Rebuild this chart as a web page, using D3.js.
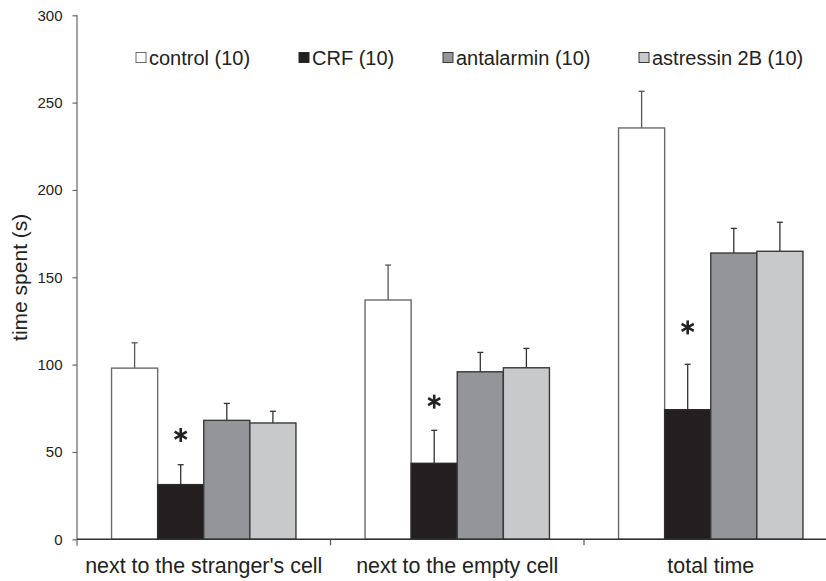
<!DOCTYPE html>
<html>
<head>
<meta charset="utf-8">
<script src="https://cdn.jsdelivr.net/npm/d3@7"></script>
<style>
  html, body { margin: 0; padding: 0; background: #fff; }
  svg { display: block; font-family: "Liberation Sans", Arial, sans-serif; }
</style>
</head>
<body>
<svg id="chart" width="826" height="581"></svg>
<script>
// ---- data ----
const categories = ["next to the stranger's cell", "next to the empty cell", "total time"];
const seriesNames = ["control (10)", "CRF (10)", "antalarmin (10)", "astressin 2B (10)"];
const controlMean    = [98.0, 137.0, 235.5];
const controlErr     = [14.5, 20.0, 21.0];
const crfMean        = [31.3, 43.5, 74.2];
const crfErr         = [11.4, 18.9, 26.0];
const antalarminMean = [68.1, 95.9, 163.9];
const antalarminErr  = [9.7, 11.1, 14.1];
const astressinMean  = [66.6, 98.2, 164.9];
const astressinErr   = [6.7, 11.1, 16.6];
const sigLevel       = [59.7, 78.8, 121.3];   // where the "*" sits over the CRF bar
const yTicks         = [0, 50, 100, 150, 200, 250, 300];

const means = [controlMean, crfMean, antalarminMean, astressinMean];
const errs  = [controlErr, crfErr, antalarminErr, astressinErr];

// ---- styles ----
const fills   = ["#ffffff", "#231f20", "#939598", "#c8c9cb"];
const strokes = ["#6a6a6a", "#2a2a2a", "#3a3a3a", "#3a3a3a"];

const svg = d3.select("#chart");

// ---- scales ----
const y = d3.scaleLinear().domain([0, 300]).range([539.3, 15.3]);
const step = 253.5;
const x0 = d3.scaleBand().domain(categories)
  .range([77, 77 + step * categories.length])
  .paddingInner(0.2726).paddingOuter(0.1363);
const x1 = d3.scaleBand().domain(seriesNames).range([0, x0.bandwidth()]).padding(0);

// ---- bars ----
const cells = [];
categories.forEach((c, i) => {
  seriesNames.forEach((s, j) => {
    cells.push({ c, s, j, v: means[j][i], e: errs[j][i] });
  });
});

const g = svg.append("g");

// error bars
const eb = g.selectAll(".err").data(cells).enter().append("g").attr("class", "err");
eb.append("line")
  .attr("x1", d => x0(d.c) + x1(d.s) + x1.bandwidth() / 2)
  .attr("x2", d => x0(d.c) + x1(d.s) + x1.bandwidth() / 2)
  .attr("y1", d => y(d.v))
  .attr("y2", d => y(d.v + d.e))
  .attr("stroke", d => d.j === 0 ? "#555" : "#333")
  .attr("stroke-width", 1.3);
eb.append("line")
  .attr("x1", d => x0(d.c) + x1(d.s) + x1.bandwidth() / 2 - 3)
  .attr("x2", d => x0(d.c) + x1(d.s) + x1.bandwidth() / 2 + 3)
  .attr("y1", d => y(d.v + d.e))
  .attr("y2", d => y(d.v + d.e))
  .attr("stroke", d => d.j === 0 ? "#555" : "#333")
  .attr("stroke-width", 1.3);

g.selectAll(".bar").data(cells).enter().append("rect")
  .attr("class", "bar")
  .attr("x", d => x0(d.c) + x1(d.s))
  .attr("width", x1.bandwidth())
  .attr("y", d => y(d.v))
  .attr("height", d => y(0) - y(d.v))
  .attr("fill", d => fills[d.j])
  .attr("stroke", d => strokes[d.j])
  .attr("stroke-width", 1.4);

// ---- significance asterisks ----
const starR = 7;
categories.forEach((c, i) => {
  const cx = x0(c) + x1(seriesNames[1]) + x1.bandwidth() / 2;
  const cy = y(sigLevel[i]);
  const sg = svg.append("g").attr("transform", `translate(${cx},${cy})`);
  [90, 30, 150].forEach(a => {
    const r = a * Math.PI / 180;
    sg.append("line")
      .attr("x1", -starR * Math.cos(r)).attr("y1", -starR * Math.sin(r))
      .attr("x2", starR * Math.cos(r)).attr("y2", starR * Math.sin(r))
      .attr("stroke", "#222").attr("stroke-width", 2.6);
  });
});

// ---- y axis ----
const yAxis = d3.axisLeft(y).tickValues(yTicks).tickSize(4.5).tickPadding(10).tickSizeOuter(0);
const ya = svg.append("g").attr("transform", "translate(77,0)").call(yAxis);
ya.select(".domain").remove();
ya.selectAll(".tick line").attr("stroke", "#666").attr("stroke-width", 1.2);
ya.selectAll(".tick text").attr("font-size", 15).attr("fill", "#222")
  .attr("font-family", "Liberation Sans, Arial, sans-serif");
svg.append("line").attr("x1", 77).attr("x2", 77)
  .attr("y1", y(300)).attr("y2", y(0) + 6.5)
  .attr("stroke", "#666").attr("stroke-width", 1.2);

// ---- x axis ----
svg.append("line").attr("x1", 77).attr("x2", 826)
  .attr("y1", y(0)).attr("y2", y(0))
  .attr("stroke", "#333").attr("stroke-width", 1.4);
const bounds = categories.slice(1).map(c => x0(c) - (x0.step() - x0.bandwidth()) / 2);
svg.selectAll(".xb").data(bounds).enter().append("line")
  .attr("x1", d => d).attr("x2", d => d)
  .attr("y1", y(0)).attr("y2", y(0) + 6)
  .attr("stroke", "#555").attr("stroke-width", 1.2);
svg.selectAll(".xl").data(categories).enter().append("text")
  .attr("x", d => x0(d) + x0.bandwidth() / 2)
  .attr("y", 573)
  .attr("text-anchor", "middle")
  .attr("font-size", 21.4)
  .attr("fill", "#222")
  .text(d => d);

// ---- y title ----
svg.append("text")
  .attr("transform", `translate(27,${y(150)}) rotate(-90)`)
  .attr("text-anchor", "middle")
  .attr("font-size", 21)
  .attr("fill", "#222")
  .text("time spent (s)");

// ---- legend ----
const legendX = [136, 299, 443, 639];
const lg = svg.selectAll(".lg").data(seriesNames).enter().append("g")
  .attr("transform", (d, j) => `translate(${legendX[j]},52.5)`);
lg.append("rect").attr("width", 10).attr("height", 10)
  .attr("fill", (d, j) => fills[j])
  .attr("stroke", (d, j) => strokes[j]).attr("stroke-width", 1);
lg.append("text").attr("x", 13).attr("y", 12.5)
  .attr("font-size", 20).attr("fill", "#222")
  .text(d => d);
</script>
</body>
</html>
